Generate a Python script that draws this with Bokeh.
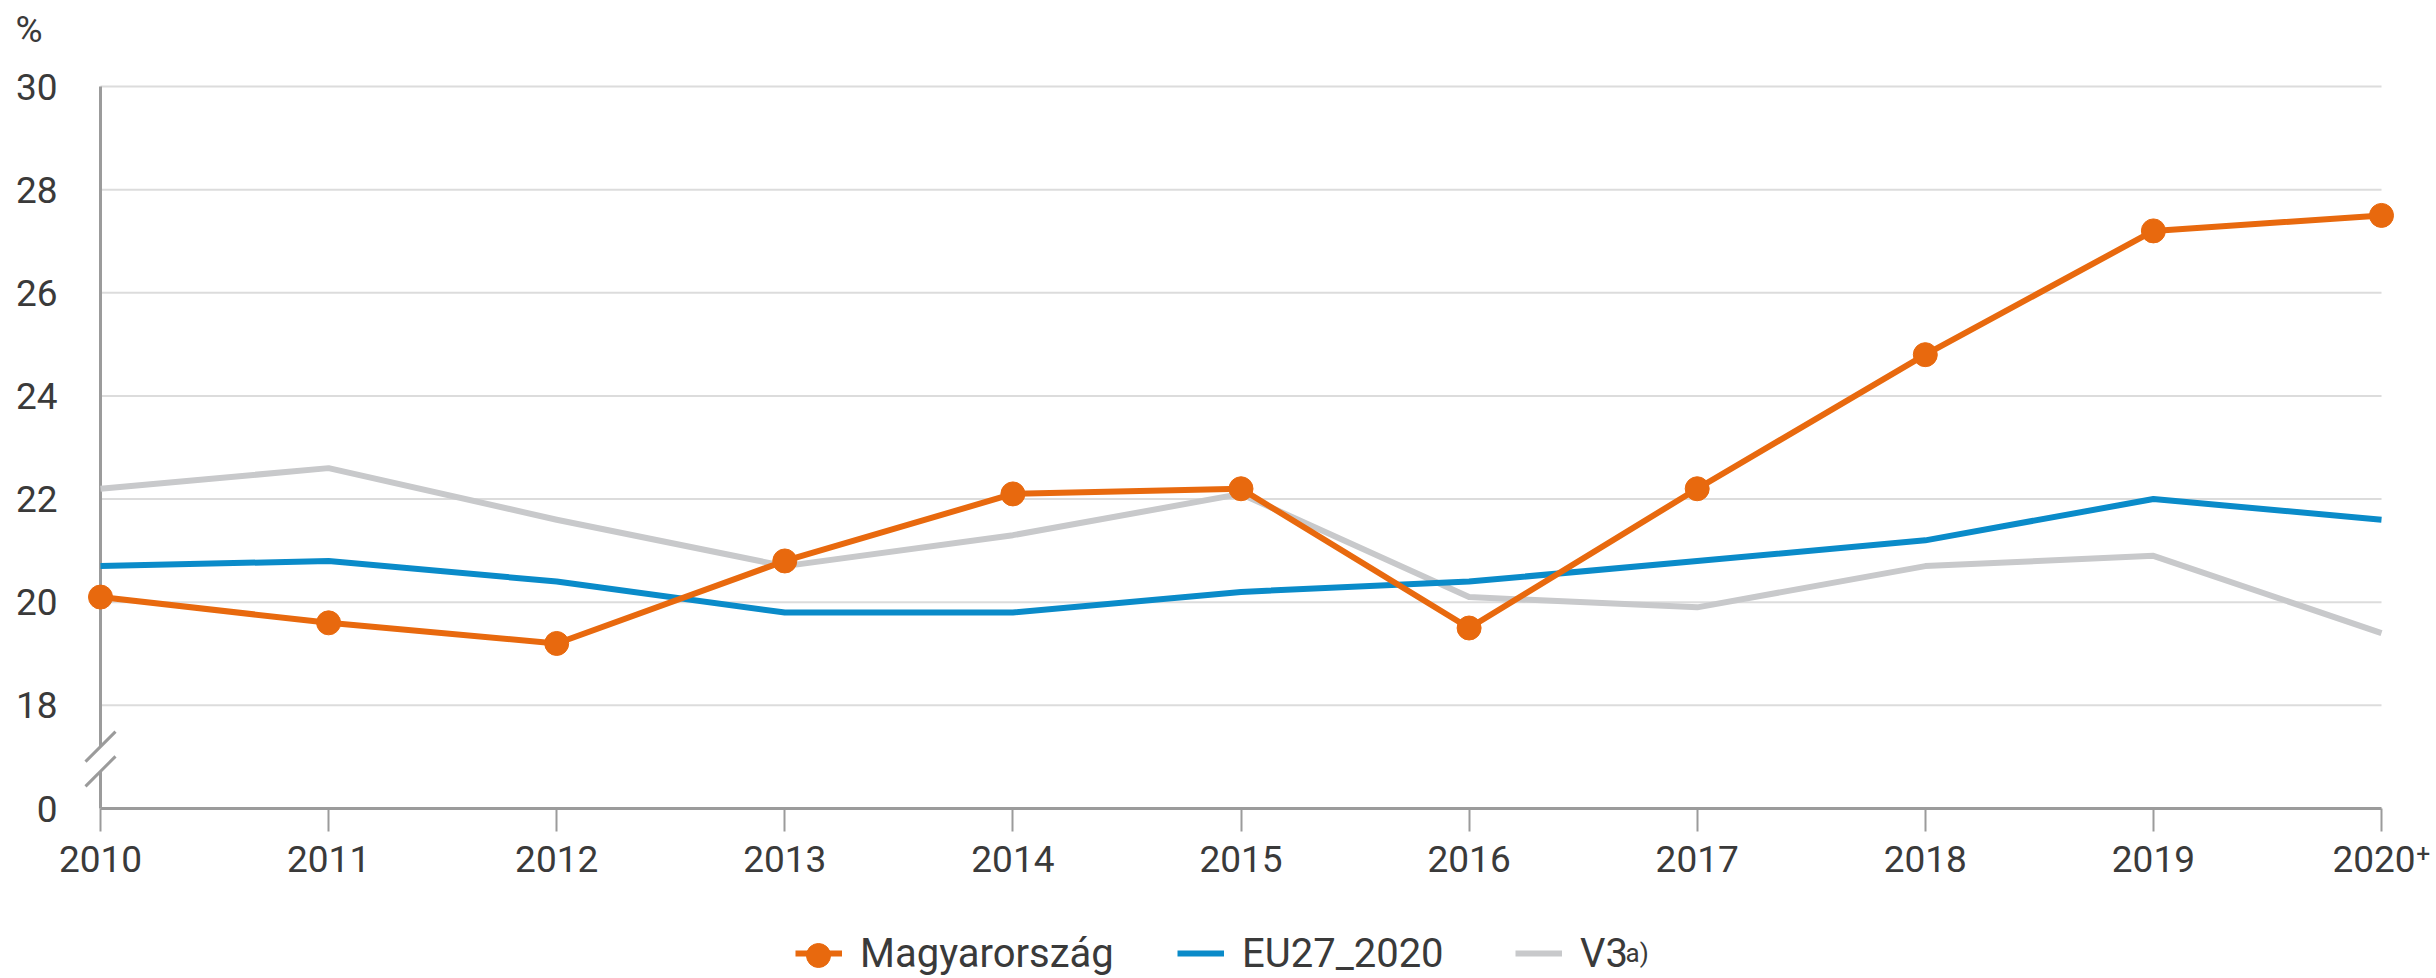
from bokeh.plotting import figure
from bokeh.models import FixedTicker, Legend, LegendItem, Label, Range1d
from bokeh.embed import file_html
from bokeh.resources import INLINE

# ---------------- data ----------------
years = [2010, 2011, 2012, 2013, 2014, 2015, 2016, 2017, 2018, 2019, 2020]
year_labels = ["2010", "2011", "2012", "2013", "2014", "2015",
               "2016", "2017", "2018", "2019", "2020\u207a"]
magyarorszag = [20.1, 19.6, 19.2, 20.8, 22.1, 22.2, 19.5, 22.2, 24.8, 27.2, 27.5]
eu27_2020 = [20.7, 20.8, 20.4, 19.8, 19.8, 20.2, 20.4, 20.8, 21.2, 22.0, 21.6]
v3 = [22.2, 22.6, 21.6, 20.7, 21.3, 22.1, 20.1, 19.9, 20.7, 20.9, 19.4]
series_names = ["Magyarország", "EU27_2020", "V3"]
v3_note = "a)"
y_tick_values = [16, 18, 20, 22, 24, 26, 28, 30]
y_tick_labels = ["0", "18", "20", "22", "24", "26", "28", "30"]
unit_label = "%"

# ---------------- style / layout ----------------
ORANGE = "#E8690E"
BLUE = "#0A8BC9"
GRAY = "#C8C9CB"
AXIS = "#9B9B9B"
GRID = "#DCDCDC"
TEXT = "#3A3A3A"
FONT = "Roboto"
FS = "37px"
FS_LEG = "40px"

W, H = 2436, 978
# pixel placement of the plotting area (frame spans the whole canvas)
X0_PX, X1_PX = 100, 2381      # first / last year
Y0_PX, Y1_PX = 808, 86        # lowest / highest y tick
ppx = (X1_PX - X0_PX) / (years[-1] - years[0])
ppy = (Y0_PX - Y1_PX) / (y_tick_values[-1] - y_tick_values[0])
x_range = Range1d(years[0] - X0_PX / ppx, years[-1] + (W - X1_PX) / ppx)
y_range = Range1d(y_tick_values[0] - (H - Y0_PX) / ppy, y_tick_values[-1] + Y1_PX / ppy)

p = figure(width=W, height=H, output_backend="svg", toolbar_location=None,
           x_range=x_range, y_range=y_range,
           min_border_left=0, min_border_right=0,
           min_border_top=0, min_border_bottom=0)
p.title.visible = False
p.outline_line_color = None
p.xgrid.visible = False
p.ygrid.visible = False

# x axis, fixed at the (broken) zero line
p.xaxis.fixed_location = y_tick_values[0]
p.xaxis.ticker = FixedTicker(ticks=years)
p.xaxis.major_label_overrides = {y: l for y, l in zip(years, year_labels)}
p.xaxis.bounds = (years[0], years[-1])
p.xaxis.axis_line_color = AXIS
p.xaxis.axis_line_width = 3
p.xaxis.major_tick_line_color = AXIS
p.xaxis.major_tick_line_width = 2
p.xaxis.major_tick_out = 23
p.xaxis.major_tick_in = 0
p.xaxis.minor_tick_line_color = None
p.xaxis.major_label_text_font = FONT
p.xaxis.major_label_text_font_size = FS
p.xaxis.major_label_text_color = TEXT
p.xaxis.major_label_standoff = 6

# y axis, fixed at the first year
p.yaxis.fixed_location = years[0]
p.yaxis.ticker = FixedTicker(ticks=y_tick_values)
p.yaxis.major_label_overrides = {v: l for v, l in zip(y_tick_values, y_tick_labels)}
p.yaxis.axis_line_color = None
p.yaxis.major_tick_line_color = None
p.yaxis.major_tick_out = 0
p.yaxis.major_tick_in = 0
p.yaxis.minor_tick_line_color = None
p.yaxis.major_label_text_font = FONT
p.yaxis.major_label_text_font_size = FS
p.yaxis.major_label_text_color = TEXT
p.yaxis.major_label_standoff = 43

# grid lines (from the tick list, bounded to the data years)
grid_vals = y_tick_values[1:]
p.segment(x0=[years[0]] * len(grid_vals), x1=[years[-1]] * len(grid_vals),
          y0=grid_vals, y1=grid_vals, line_color=GRID, line_width=2)

# broken y axis line
brk_hi, brk_lo = 17.2, 16.72
slash_dx = 15 / ppx
slash_dy = 15 / ppy
p.segment(x0=[years[0], years[0]], x1=[years[0], years[0]],
          y0=[y_tick_values[-1], brk_lo], y1=[brk_hi, y_tick_values[0]],
          line_color=AXIS, line_width=3)
p.segment(x0=[years[0] - slash_dx] * 2, x1=[years[0] + slash_dx] * 2,
          y0=[brk_hi - slash_dy, brk_lo - slash_dy],
          y1=[brk_hi + slash_dy, brk_lo + slash_dy],
          line_color=AXIS, line_width=3)

# series
r_v3 = p.line(years, v3, line_color=GRAY, line_width=6, line_join="round")
r_eu = p.line(years, eu27_2020, line_color=BLUE, line_width=6, line_join="round")
r_hu = p.line(years, magyarorszag, line_color=ORANGE, line_width=6, line_join="round")
r_hu_pts = p.scatter(years, magyarorszag, size=24, fill_color=ORANGE, line_color=ORANGE)


def add_legend(renderers, label, x, y, gw, gh):
    lg = Legend(items=[LegendItem(label=label, renderers=renderers)],
                location=(x, y), orientation="horizontal",
                glyph_width=gw, glyph_height=gh, label_height=gh,
                label_standoff=18, padding=0, margin=0, spacing=0,
                border_line_color=None, background_fill_alpha=0,
                label_text_font=FONT, label_text_font_size=FS_LEG,
                label_text_color=TEXT)
    p.add_layout(lg, "center")


# legend row (screen offsets from the bottom-left corner)
add_legend([r_hu], series_names[0], 795, 1.5, 47, 44)
add_legend([r_hu_pts], " ", 788, -6.5, 60, 60)
add_legend([r_eu], series_names[1], 1177, 1.5, 47, 44)
add_legend([r_v3], series_names[2], 1515, 1.5, 47, 44)
p.add_layout(Label(x=1625, y=26, x_units="screen", y_units="screen",
                   text=v3_note, text_font=FONT, text_font_size="26px",
                   text_color=TEXT, text_baseline="middle"))

# unit label
p.add_layout(Label(x=15, y=H - 28.5, x_units="screen", y_units="screen",
                   text=unit_label, text_font=FONT, text_font_size=FS,
                   text_color=TEXT, text_baseline="middle"))

open("out.html", "w").write(file_html(p, INLINE))
